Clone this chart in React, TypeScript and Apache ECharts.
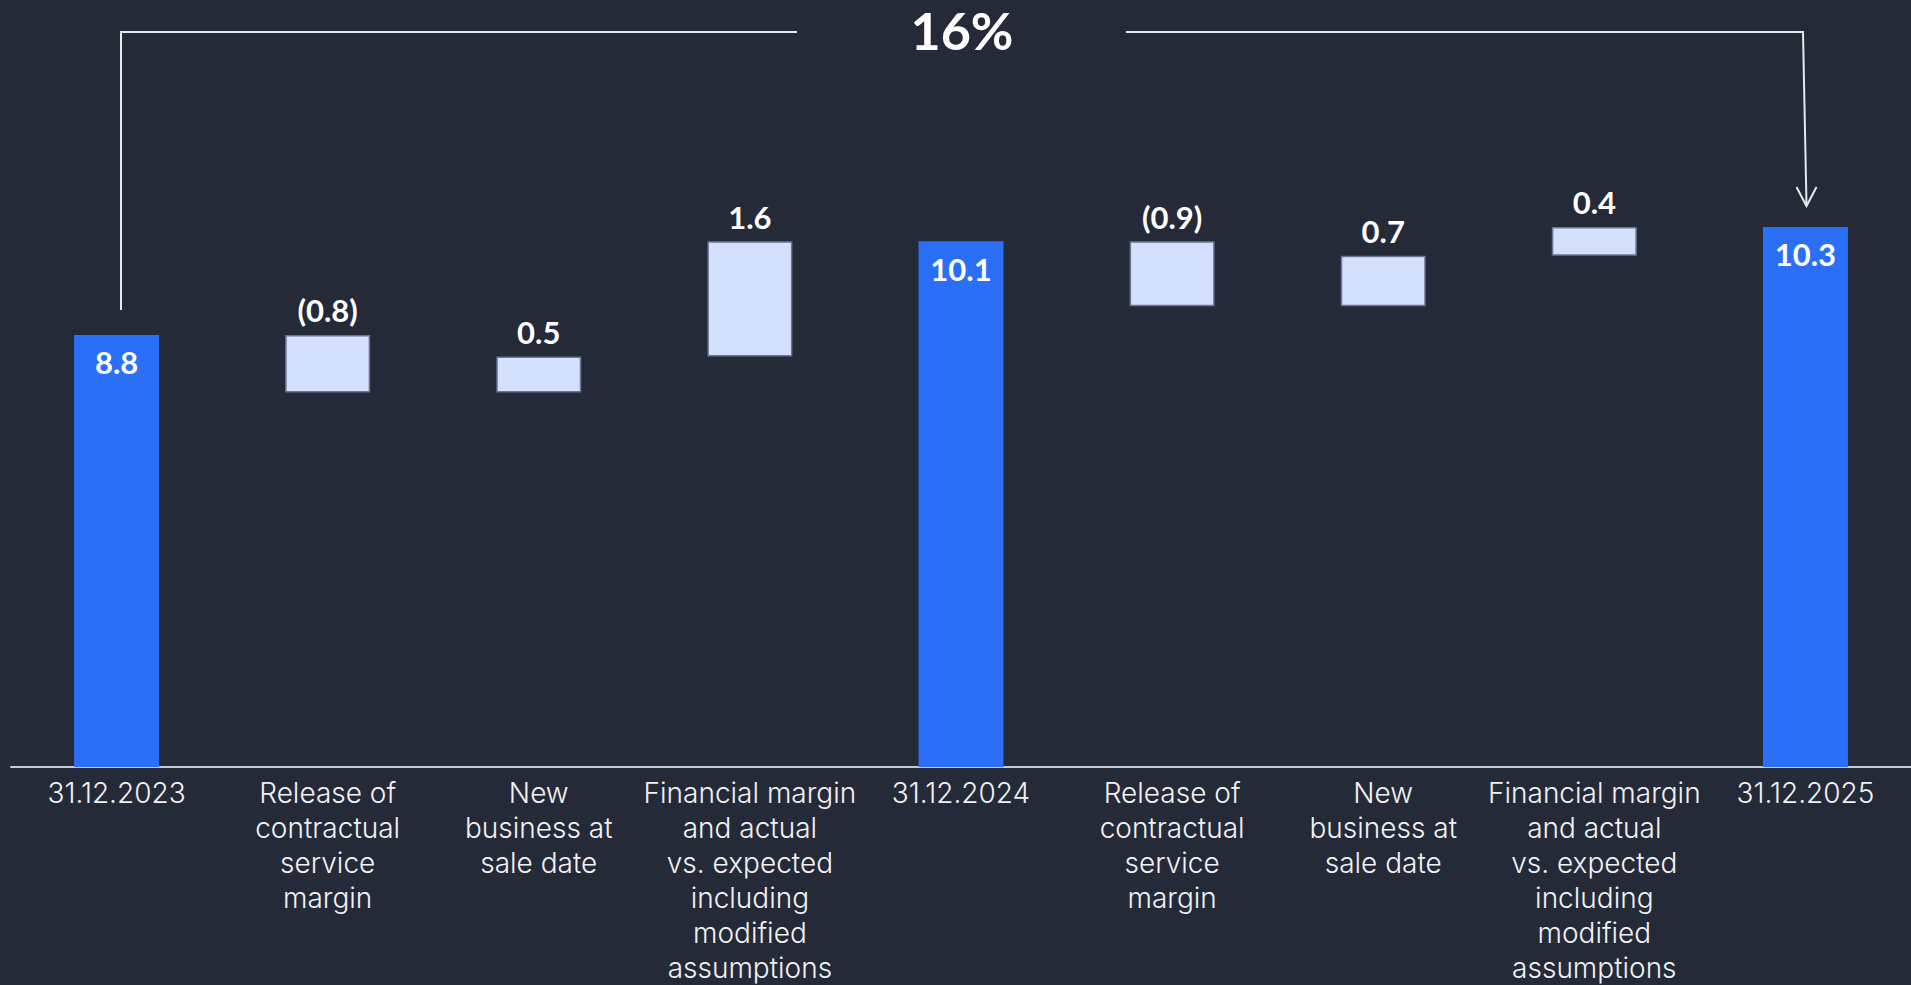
import React, { useEffect, useRef } from "react";
import * as echarts from "echarts";

const categories: string[] = [
  "31.12.2023",
  "Release of\ncontractual\nservice\nmargin",
  "New\nbusiness at\nsale date",
  "Financial margin\nand actual\nvs. expected\nincluding\nmodified\nassumptions",
  "31.12.2024",
  "Release of\ncontractual\nservice\nmargin",
  "New\nbusiness at\nsale date",
  "Financial margin\nand actual\nvs. expected\nincluding\nmodified\nassumptions",
  "31.12.2025",
];

// Totals (period-end values); null where the category is a movement
const totalValues: (number | null)[] = [8.8, null, null, null, 10.1, null, null, null, 10.3];
// Movements; null where the category is a total
const deltaValues: (number | null)[] = [null, -0.8, 0.5, 1.6, null, -0.9, 0.7, 0.4, null];
const deltaLabels: string[] = ["", "(0.8)", "0.5", "1.6", "", "(0.9)", "0.7", "0.4", ""];
const growthLabel = "16%";

const BG = "#252A39";
const BLUE = "#2A6FF6";
const LIGHT = "#D3E1FE";
const FONT = "Lato, 'Noto Sans', sans-serif";
const LABEL_FONT = "Inter, Lato, sans-serif";

function buildWaterfall() {
  const base: (number | string)[] = [];
  const visible: (number | string)[] = [];
  const totals: (number | string)[] = [];
  let running = 0;
  for (let i = 0; i < categories.length; i++) {
    const t = totalValues[i];
    const d = deltaValues[i];
    if (t != null) {
      running = t;
      totals.push(t);
      base.push("-");
      visible.push("-");
    } else if (d != null) {
      totals.push("-");
      const lo = d < 0 ? running + d : running;
      base.push(+lo.toFixed(4));
      visible.push(Math.abs(d));
      running = +(running + d).toFixed(4);
    } else {
      totals.push("-");
      base.push("-");
      visible.push("-");
    }
  }
  return { base, visible, totals };
}

export default function App() {
  const ref = useRef<HTMLDivElement>(null);

  useEffect(() => {
    if (!ref.current) return;
    const chart = echarts.init(ref.current, undefined, { renderer: "svg" });
    const { base, visible, totals } = buildWaterfall();

    const lineStyle = { stroke: "#E8E8EC", lineWidth: 2, fill: null as any };

    chart.setOption({
      animation: false,
      backgroundColor: BG,
      grid: { left: 11, width: 1902, top: 32.5, bottom: 213, containLabel: false },
      xAxis: {
        type: "category",
        data: categories,
        axisLine: { show: true, lineStyle: { color: "#C9CBD1", width: 2 } },
        axisTick: { show: false },
        axisLabel: {
          interval: 0,
          margin: 8,
          color: "#F2F2F4",
          fontFamily: LABEL_FONT,
          fontWeight: 300,
          fontSize: 28,
          lineHeight: 35,
          align: "center",
          verticalAlign: "top",
        },
      },
      yAxis: {
        type: "value",
        min: 2.8,
        max: 13,
        show: false,
        splitLine: { show: false },
      },
      series: [
        {
          name: "Total",
          type: "bar",
          stack: "wf",
          barWidth: 85,
          data: totals,
          itemStyle: { color: BLUE },
          label: {
            show: true,
            position: "insideTop",
            distance: 12,
            color: "#FFFFFF",
            fontFamily: FONT,
            fontWeight: "bold",
            fontSize: 31,
            formatter: (p: any) => String(p.value),
          },
        },
        {
          name: "Base",
          type: "bar",
          stack: "wf",
          barWidth: 85,
          data: base,
          itemStyle: { color: "rgba(0,0,0,0)" },
          emphasis: { disabled: true },
          label: { show: false },
        },
        {
          name: "Movement",
          type: "bar",
          stack: "wf",
          barWidth: 85,
          data: visible,
          itemStyle: { color: LIGHT, borderColor: "#6B7591", borderWidth: 1.5 },
          label: {
            show: true,
            position: "top",
            distance: 9,
            color: "#FFFFFF",
            fontFamily: FONT,
            fontWeight: "bold",
            fontSize: 31,
            formatter: (p: any) => deltaLabels[p.dataIndex],
          },
        },
      ],
      graphic: [
        {
          type: "polyline",
          shape: { points: [[121, 310], [121, 32], [797, 32]] },
          style: lineStyle,
          silent: true,
        },
        {
          type: "polyline",
          shape: { points: [[1126, 32], [1803, 32], [1806.5, 205]] },
          style: lineStyle,
          silent: true,
        },
        {
          type: "polyline",
          shape: { points: [[1796.5, 187], [1806.5, 206], [1816.5, 187]] },
          style: lineStyle,
          silent: true,
        },
        {
          type: "text",
          x: 962,
          y: 30,
          style: {
            text: growthLabel,
            fill: "#FFFFFF",
            font: `bold 52px ${FONT}`,
            align: "center",
            verticalAlign: "middle",
          },
          silent: true,
        },
      ],
    });

    return () => {
      chart.dispose();
    };
  }, []);

  return (
    <div
      ref={ref}
      style={{ position: "fixed", left: 0, top: 0, width: 1911, height: 985, background: BG }}
    />
  );
}
